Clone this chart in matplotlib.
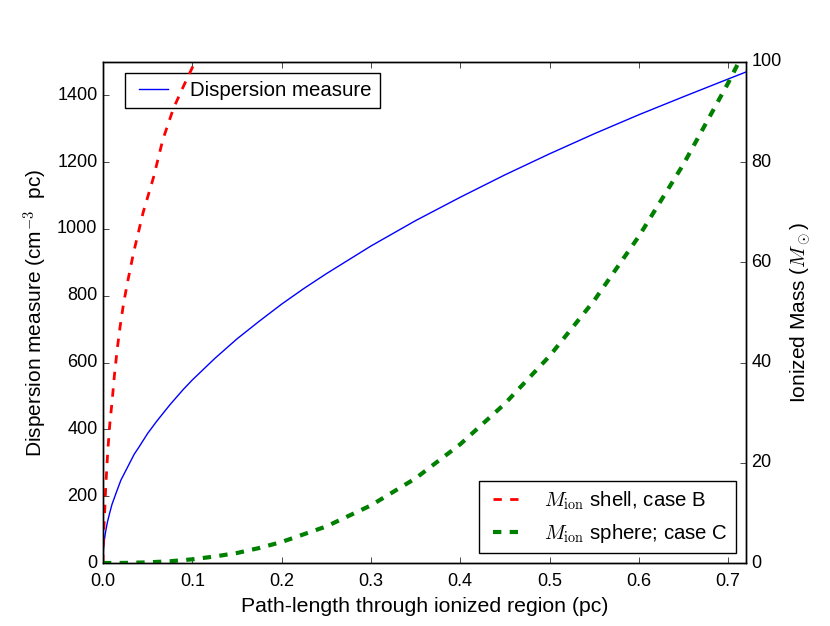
import matplotlib
matplotlib.use("Agg")
import matplotlib.pyplot as plt

plt.style.use("classic")
plt.rcParams["font.family"] = ["Liberation Sans", "DejaVu Sans"]
plt.rcParams["mathtext.fontset"] = "cm"
plt.rcParams["font.size"] = 12.2
plt.rcParams["xtick.labelsize"] = 13
plt.rcParams["ytick.labelsize"] = 13
plt.rcParams["xtick.major.pad"] = 7
plt.rcParams["figure.facecolor"] = "white"
plt.rcParams["savefig.facecolor"] = "white"

# Dispersion measure (left axis)
dm_x = [0.0, 0.0005, 0.001, 0.002, 0.003, 0.005, 0.0075, 0.01, 0.015, 0.02, 0.025, 0.03,
        0.035, 0.04, 0.05, 0.06, 0.075, 0.09, 0.1, 0.125, 0.15, 0.175, 0.2, 0.225,
        0.25, 0.3, 0.35, 0.4, 0.45, 0.5, 0.55, 0.6, 0.65, 0.7, 0.72]
dm_y = [0, 39, 55, 78, 95, 123, 150, 175, 212, 248, 274, 300,
        326, 346, 388, 424, 474, 520, 548, 612, 671, 724, 775, 822,
        866, 949, 1025, 1095, 1162, 1225, 1285, 1342, 1396, 1449, 1470]

# Ionized mass, shell case B (right axis)
shell_x = [0.0, 0.0003, 0.001, 0.0017, 0.003, 0.0054, 0.0075, 0.0103, 0.0128, 0.0158,
           0.019, 0.0232, 0.028, 0.0343, 0.045, 0.0566, 0.067, 0.079, 0.091, 0.103, 0.13]
shell_y = [0, 4, 7, 9.5, 15, 22.5, 27.5, 32.5, 37.5, 42.5,
           47, 52, 56.5, 62, 70, 77, 84.5, 90.8, 95.5, 100, 111]

# Ionized mass, sphere case C (right axis)
sph_x = [0.0, 0.025, 0.05, 0.075, 0.1, 0.125, 0.15, 0.175, 0.2, 0.25, 0.3, 0.35,
         0.4, 0.45, 0.5, 0.55, 0.6, 0.65, 0.7, 0.72]
sph_y = [0, 0.02, 0.13, 0.35, 0.74, 1.3, 2.0, 3.0, 4.2, 7.3, 11.5, 16.9,
         23.7, 31.8, 41.3, 52.4, 65.2, 79.6, 95.8, 102.8]

fig = plt.figure(figsize=(8.3, 6.26), dpi=100)
ax1 = fig.add_axes([0.1241, 0.1006, 0.8988 - 0.1241, 0.901 - 0.1006])
ax1.plot(dm_x, dm_y, color="blue", lw=1.0, label="Dispersion measure")
ax1.set_xlim(0, 0.72)
ax1.set_ylim(0, 1500)
ax1.set_xticks([0.0, 0.1, 0.2, 0.3, 0.4, 0.5, 0.6, 0.7])
ax1.set_yticks([0, 200, 400, 600, 800, 1000, 1200, 1400])
ax1.set_xlabel("Path-length through ionized region (pc)", fontsize=15.3)
ax1.set_ylabel(r"Dispersion measure (cm$^{\mathsf{-3}}$  pc)", fontsize=15)
ax1.legend(loc="upper left", bbox_to_anchor=(0.034, 0.978), borderaxespad=0,
           fancybox=False)

ax2 = ax1.twinx()
ax2.plot(shell_x, shell_y, color="red", ls="--", lw=2, label=r"$M_{\rm ion}$ shell, case B")
ax2.plot(sph_x, sph_y, color="green", ls="--", lw=3, label=r"$M_{\rm ion}$ sphere; case C")
ax2.set_ylim(0, 100)
ax2.set_xlim(0, 0.72)
ax2.set_yticks([0, 20, 40, 60, 80, 100])
ax2.set_ylabel(r"Ionized Mass ($M_\odot$)", fontsize=15)
ax2.legend(loc="lower right", fancybox=False)

fig.savefig("out.png", dpi=100)
